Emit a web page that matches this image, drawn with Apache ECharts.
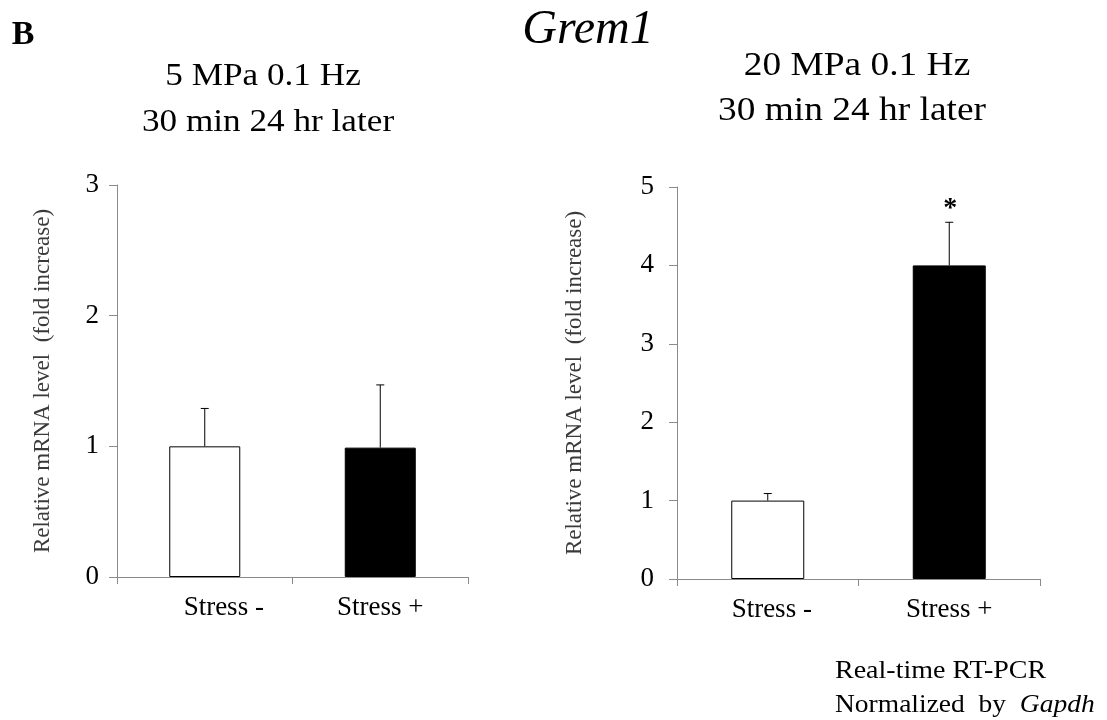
<!DOCTYPE html>
<html>
<head>
<meta charset="utf-8">
<script src="https://cdn.jsdelivr.net/npm/echarts@6/dist/echarts.min.js"></script>
<style>html,body{margin:0;padding:0;background:#fff}#c{width:1107px;height:720px}</style>
</head>
<body>
<div id="c"></div>
<script>
const categories = ['Stress -', 'Stress +'];
const leftMeans = [1.0, 0.99];
const leftErrors = [0.29, 0.48];
const rightMeans = [1.0, 4.0];
const rightErrors = [0.09, 0.55];
const rightSignificance = ['', '*'];
const leftTicks = {min: 0, max: 3, interval: 1};
const rightTicks = {min: 0, max: 5, interval: 1};
const barColors = ['#ffffff', '#000000'];
const yName = 'Relative mRNA level  (fold increase)';

const FONT = "'Liberation Serif', serif";
const AXIS_GRAY = '#8a8a8a';

const chart = echarts.init(document.getElementById('c'), null, {renderer: 'canvas'});

function xAxisFor(gridIndex, firstPad) {
  return {
    type: 'category', gridIndex,
    data: categories.map((c, i) => i === 0 && firstPad ? {value: c, textStyle: {padding: [0, 0, 0, firstPad]}} : c),
    axisLine: {lineStyle: {color: AXIS_GRAY, width: 1}},
    axisTick: {show: true, length: 7, alignWithLabel: false, lineStyle: {color: AXIS_GRAY}},
    axisLabel: {color: '#000', fontFamily: 'Liberation Serif', fontSize: 27, margin: 17},
    splitLine: {show: false}
  };
}
function yAxisFor(gridIndex, ticks, nameGap, labelMargin) {
  return {
    type: 'value', gridIndex, min: ticks.min, max: ticks.max, interval: ticks.interval,
    name: yName, nameLocation: 'middle', nameGap,
    nameTextStyle: {color: '#3a3a3a', fontFamily: 'Liberation Serif', fontSize: 23},
    axisLine: {show: true, lineStyle: {color: AXIS_GRAY, width: 1}},
    axisTick: {show: true, length: 8, lineStyle: {color: AXIS_GRAY}},
    axisLabel: {color: '#000', fontFamily: 'Liberation Serif', fontSize: 27, margin: labelMargin},
    splitLine: {show: false}
  };
}
function barSeries(idx, means, width) {
  return {
    type: 'bar', xAxisIndex: idx, yAxisIndex: idx, barWidth: width,
    data: means.map((v, i) => ({value: v, itemStyle: {color: barColors[i], borderColor: '#000', borderWidth: 1}})),
    animation: false, silent: true
  };
}
function errSeries(idx, means, errs, sig) {
  return {
    type: 'custom', xAxisIndex: idx, yAxisIndex: idx, animation: false, silent: true, z: 5,
    data: means.map((m, i) => [i, m, errs[i]]),
    encode: {x: 0, y: 1},
    renderItem: function (params, api) {
      const i = api.value(0), m = api.value(1), e = api.value(2);
      const base = api.coord([i, m]);
      const top = api.coord([i, m + e]);
      const children = [
        {type: 'line', shape: {x1: base[0], y1: base[1], x2: top[0], y2: top[1]}, style: {stroke: '#000', lineWidth: 1}},
        {type: 'line', shape: {x1: top[0] - 4, y1: top[1], x2: top[0] + 4, y2: top[1]}, style: {stroke: '#000', lineWidth: 1}}
      ];
      if (sig && sig[params.dataIndex]) {
        children.push({type: 'text', x: top[0] + 1, y: top[1] - 14,
          style: {text: sig[params.dataIndex], fill: '#000', font: 'bold 28px ' + FONT, textAlign: 'center', textVerticalAlign: 'middle'}});
      }
      return {type: 'group', children};
    }
  };
}
function txt(x, y, text, font, opts) {
  return Object.assign({type: 'text', x, y, silent: true,
    style: Object.assign({text, font, fill: '#000', textAlign: 'center', textVerticalAlign: 'middle'}, (opts && opts.style) || {})},
    opts && opts.el ? opts.el : {});
}

chart.setOption({
  backgroundColor: '#fff',
  animation: false,
  grid: [
    {left: 117, top: 185, width: 351, height: 392, containLabel: false},
    {left: 677, top: 187, width: 363, height: 392, containLabel: false}
  ],
  xAxis: [xAxisFor(0, 38), xAxisFor(1, 8)],
  yAxis: [yAxisFor(0, leftTicks, 63, 18), yAxisFor(1, rightTicks, 91, 23)],
  series: [
    barSeries(0, leftMeans, 71),
    errSeries(0, leftMeans, leftErrors, null),
    barSeries(1, rightMeans, 73),
    errSeries(1, rightMeans, rightErrors, rightSignificance)
  ],
  graphic: [
    txt(23, 35, 'B', 'bold 34px ' + FONT),
    txt(588, 30, 'Grem1', 'italic 48px ' + FONT),
    txt(263, 77, '5 MPa 0.1 Hz', '32px ' + FONT, {el: {scaleX: 1.1}}),
    txt(268, 123, '30 min 24 hr later', '32px ' + FONT, {el: {scaleX: 1.1}}),
    txt(857, 66, '20 MPa 0.1 Hz', '34px ' + FONT, {el: {scaleX: 1.1}}),
    txt(852, 111, '30 min 24 hr later', '34px ' + FONT, {el: {scaleX: 1.1}}),
    txt(835, 671, 'Real-time RT-PCR', '25px ' + FONT, {el: {scaleX: 1.12}, style: {textAlign: 'left'}}),
    {type: 'text', x: 835, y: 705, scaleX: 1.1, silent: true,
      style: {text: 'Normalized  by  {i|Gapdh}', font: '25px ' + FONT, fill: '#000', textAlign: 'left', textVerticalAlign: 'middle',
        rich: {i: {fontStyle: 'italic', fontFamily: 'Liberation Serif', fontSize: 25, fill: '#000'}}}}
  ]
});
</script>
</body>
</html>
